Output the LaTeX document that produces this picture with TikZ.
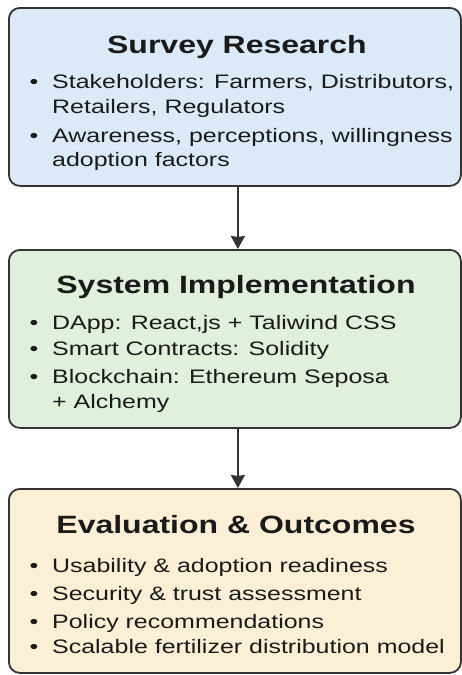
\documentclass[tikz,border=0pt]{standalone}
\usepackage{fontspec}
\setmainfont{Liberation Sans}[FakeStretch=1.28]
\usetikzlibrary{arrows.meta}
\definecolor{bluefill}{HTML}{DCEAF8}
\definecolor{greenfill}{HTML}{E0F0DD}
\definecolor{sandfill}{HTML}{FBEFD6}
\definecolor{edgecol}{HTML}{333333}
\definecolor{txtcol}{HTML}{1A1A1A}
\tikzset{
  stagebox/.style={draw=edgecol, line width=1.8pt, rounded corners=11pt, inner sep=0pt,
    minimum width=452pt, minimum height=178pt, anchor=north west},
  titletext/.style={anchor=base, text=txtcol, inner sep=0pt, font=\bfseries\fontsize{25}{30}\selectfont},
  bodytext/.style={anchor=base west, text=txtcol, inner sep=0pt, font=\fontsize{19.5}{23}\selectfont},
  bullettext/.style={anchor=base, text=txtcol, inner sep=0pt, font=\fontsize{19.5}{23}\selectfont},
  flowarrow/.style={draw=edgecol, line width=2.2pt, -{Stealth[length=13pt,width=14pt,inset=1pt]}}
}
\begin{document}
\begin{tikzpicture}[x=1pt,y=-1pt]
\useasboundingbox (0,0) rectangle (462,675);
\fill[white] (0,0) rectangle (462,675);
% boxes
\node[stagebox, fill=bluefill] (b1) at (8,7) {};
\node[stagebox, fill=greenfill] (b2) at (8,249) {};
\node[stagebox, fill=sandfill, minimum height=184pt] (b3) at (8,488) {};
% box 1
\node[titletext] (t1) at (237,53) {Survey Research};
\node[bullettext] (p11) at (34,88) {•};
\node[bodytext] (l11) at (52,88) {Stakeholders: Farmers, Distributors,};
\node[bodytext] (l12) at (52,113) {Retailers, Regulators};
\node[bullettext] (p12) at (34,142) {•};
\node[bodytext] (l13) at (52,142) {Awareness, perceptions, willingness};
\node[bodytext] (l14) at (52,166) {adoption factors};
% box 2
\node[titletext] (t2) at (236,293) {System Implementation};
\node[bullettext] (p21) at (34,329) {•};
\node[bodytext] (l21) at (52,329) {DApp: React,js + Taliwind CSS};
\node[bullettext] (p22) at (34,355) {•};
\node[bodytext] (l22) at (52,355) {Smart Contracts: Solidity};
\node[bullettext] (p23) at (34,383) {•};
\node[bodytext] (l23) at (52,383) {Blockchain: Ethereum Seposa};
\node[bodytext] (l24) at (52,408) {+ Alchemy};
% box 3
\node[titletext] (t3) at (236,533) {Evaluation \& Outcomes};
\node[bullettext] (p31) at (34,572) {•};
\node[bodytext] (l31) at (52,572) {Usability \& adoption readiness};
\node[bullettext] (p32) at (34,600) {•};
\node[bodytext] (l32) at (52,600) {Security \& trust assessment};
\node[bullettext] (p33) at (34,628) {•};
\node[bodytext] (l33) at (52,628) {Policy recommendations};
\node[bullettext] (p34) at (34,653) {•};
\node[bodytext] (l34) at (52,653) {Scalable fertilizer distribution model};
% arrows
\draw[flowarrow] ([xshift=3pt]b1.south) -- ([xshift=3pt]b2.north);
\draw[flowarrow] ([xshift=3pt]b2.south) -- ([xshift=3pt]b3.north);
\end{tikzpicture}
\end{document}
